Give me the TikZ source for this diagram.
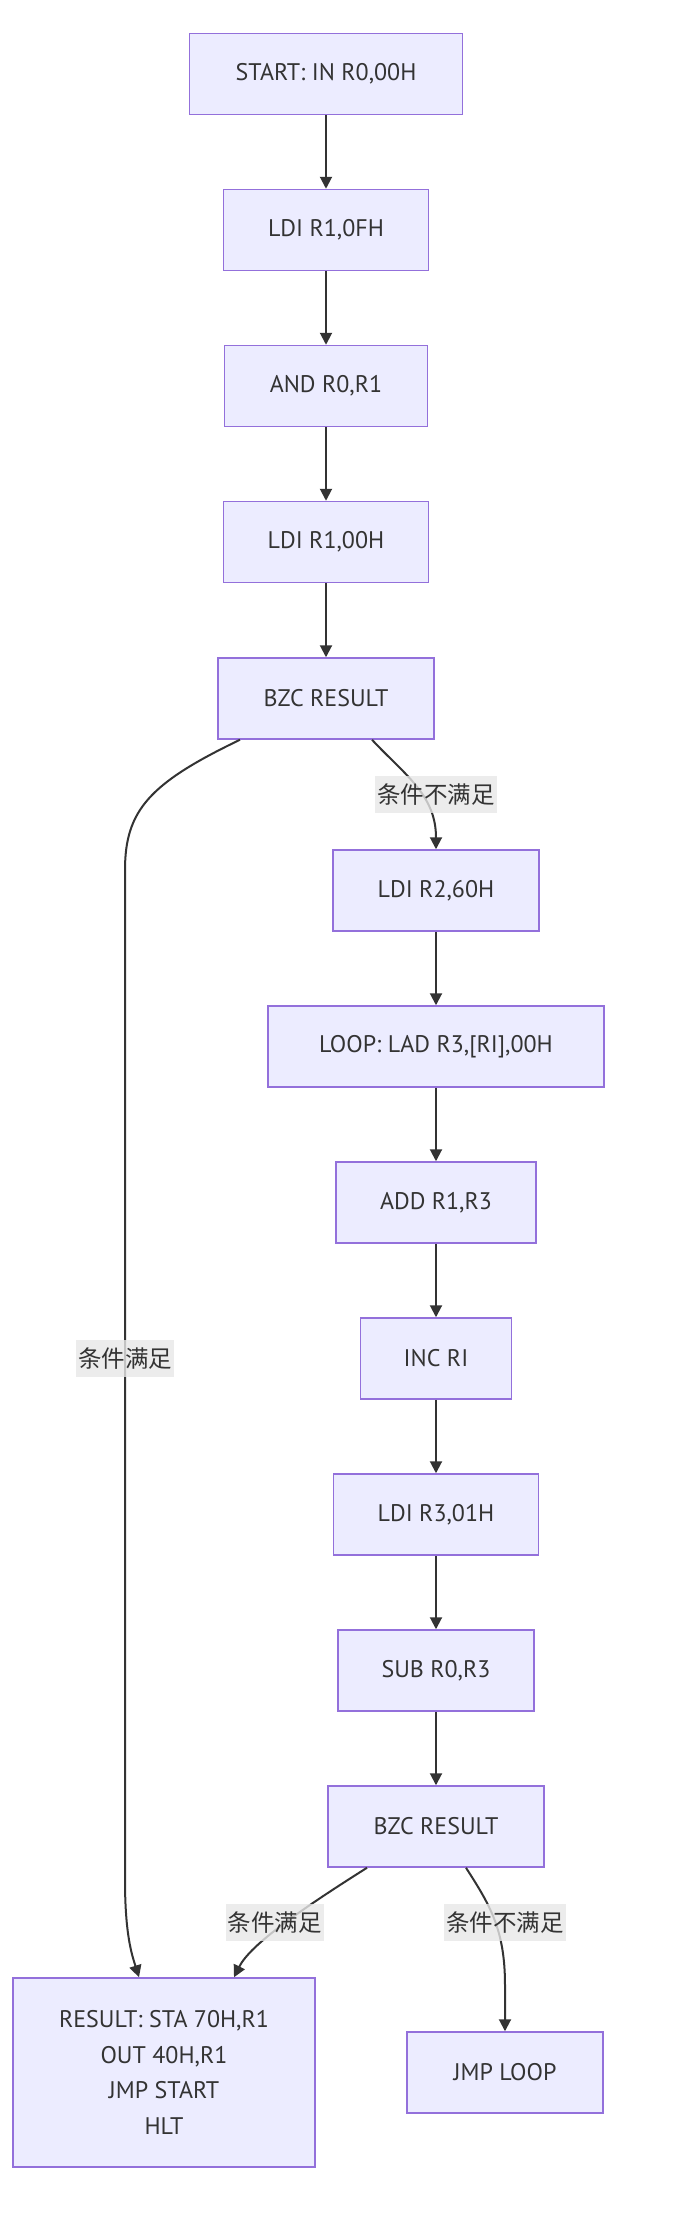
\documentclass[tikz,border=0pt]{standalone}
\usepackage{fontspec}
\setmainfont{PT Sans}
\newfontfamily\cjk{Noto Sans CJK SC}
\usetikzlibrary{arrows.meta}
\definecolor{boxfill}{HTML}{ECECFF}
\definecolor{boxline}{HTML}{9370DB}
\definecolor{edgecol}{HTML}{333333}
\definecolor{lblbg}{HTML}{E8E8E8}
\tikzset{
 box/.style={draw=boxline, fill=boxfill, line width=1.5pt, minimum height=81pt, inner sep=0pt, text=edgecol, font=\fontsize{24}{35.6}\selectfont, align=center},
 flow/.style={draw=edgecol, line width=2pt, -{Triangle[length=12pt,width=12pt]}},
 lbl/.style={fill=lblbg, fill opacity=0.8, text opacity=1, text=edgecol, inner xsep=2pt, inner ysep=0pt, minimum height=37pt, font=\cjk\fontsize{23.5}{26}\selectfont},
}
\begin{document}
\begin{tikzpicture}[x=1pt,y=-1pt]
\fill[white] (0,0) rectangle (681,2220);
\useasboundingbox (0,0) rectangle (681,2220);
\node[box, minimum width=273pt] (start) at (326,74) {START: IN R0,00H};
\node[box, minimum width=205pt] (ldi1) at (326,230) {LDI R1,0FH};
\node[box, minimum width=203pt] (andn) at (326,386) {AND R0,R1};
\node[box, minimum width=205pt] (ldi2) at (326,542) {LDI R1,00H};
\node[box, minimum width=216pt] (bzc1) at (326,698.5) {BZC RESULT};
\node[box, minimum width=206pt] (ldi3) at (436,890.5) {LDI R2,60H};
\node[box, minimum width=336pt] (loop) at (436,1046.5) {LOOP: LAD R3,[RI],00H};
\node[box, minimum width=200pt] (add) at (436,1202.5) {ADD R1,R3};
\node[box, minimum width=151pt] (inc) at (436,1358.5) {INC RI};
\node[box, minimum width=205pt] (ldi4) at (436,1514.5) {LDI R3,01H};
\node[box, minimum width=196pt] (sub) at (436,1670.5) {SUB R0,R3};
\node[box, minimum width=216pt] (bzc2) at (436,1826.5) {BZC RESULT};
\node[box, minimum width=302pt, minimum height=189pt] (res) at (164,2072.5) {RESULT: STA 70H,R1\\OUT 40H,R1\\JMP START\\HLT};
\node[box, minimum width=196pt] (jmp) at (505,2072.5) {JMP LOOP};
\draw[flow] (start) -- (ldi1);
\draw[flow] (ldi1) -- (andn);
\draw[flow] (andn) -- (ldi2);
\draw[flow] (ldi2) -- (bzc1);
\draw[flow] (ldi3) -- (loop);
\draw[flow] (loop) -- (add);
\draw[flow] (add) -- (inc);
\draw[flow] (inc) -- (ldi4);
\draw[flow] (ldi4) -- (sub);
\draw[flow] (sub) -- (bzc2);
\draw[flow] ([xshift=46pt]bzc1.south) .. controls (405,775) and (436,795) .. (ldi3.north);
\draw[flow] ([xshift=-86pt]bzc1.south) .. controls (150,783) and (125,810) .. (125,870) -- (125,1880) .. controls (125,1935) and (132,1955) .. ([xshift=-25pt]res.north);
\draw[flow] ([xshift=-69pt]bzc2.south) .. controls (300,1910) and (250,1945) .. ([xshift=70pt]res.north);
\draw[flow] ([xshift=30pt]bzc2.south) .. controls (490,1905) and (505,1930) .. (505,1985) -- (jmp.north);
\node[lbl] (l1) at (436,794.5) {条件不满足};
\node[lbl] (l2) at (125,1358.5) {条件满足};
\node[lbl] (l3) at (274.5,1922.5) {条件满足};
\node[lbl] (l4) at (505,1922.5) {条件不满足};
\end{tikzpicture}
\end{document}
